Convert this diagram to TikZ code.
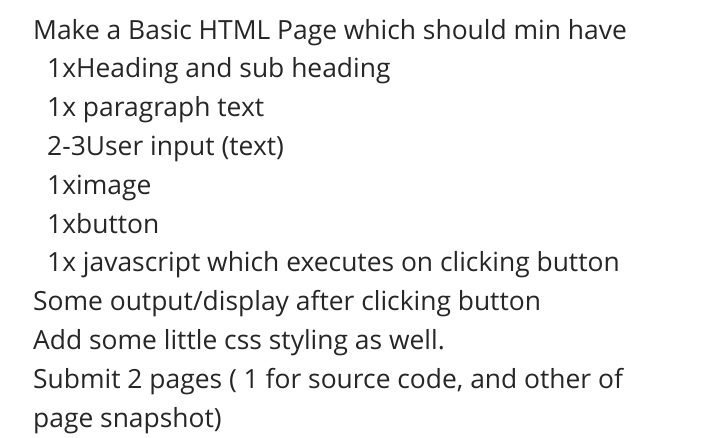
\documentclass[tikz,border=0pt]{standalone}
\usepackage{fontspec}
\setmainfont{Open Sans}
\begin{document}
\begin{tikzpicture}[x=1pt,y=-1pt,txt/.style={anchor=base west,inner sep=0pt,font=\fontsize{26.4}{30}\selectfont,text=black!85}]
\useasboundingbox (0,0) rectangle (719,437);
\node[txt] (l1) at (33,39) {Make a Basic HTML Page which should min have};
\node[txt] (l2) at (47,77.8) {1xHeading and sub heading};
\node[txt] (l3) at (47,116.6) {1x paragraph text};
\node[txt] (l4) at (47,155.4) {2-3User input (text)};
\node[txt] (l5) at (47,194.2) {1ximage};
\node[txt] (l6) at (47,233) {1xbutton};
\node[txt] (l7) at (47,271.8) {1x javascript which executes on clicking button};
\node[txt] (l8) at (33,310.6) {Some output/display after clicking button};
\node[txt] (l9) at (33,349.4) {Add some little css styling as well.};
\node[txt] (l10) at (33,388.2) {Submit 2 pages ( 1 for source code, and other of};
\node[txt] (l11) at (33,427) {page snapshot)};
\end{tikzpicture}
\end{document}
